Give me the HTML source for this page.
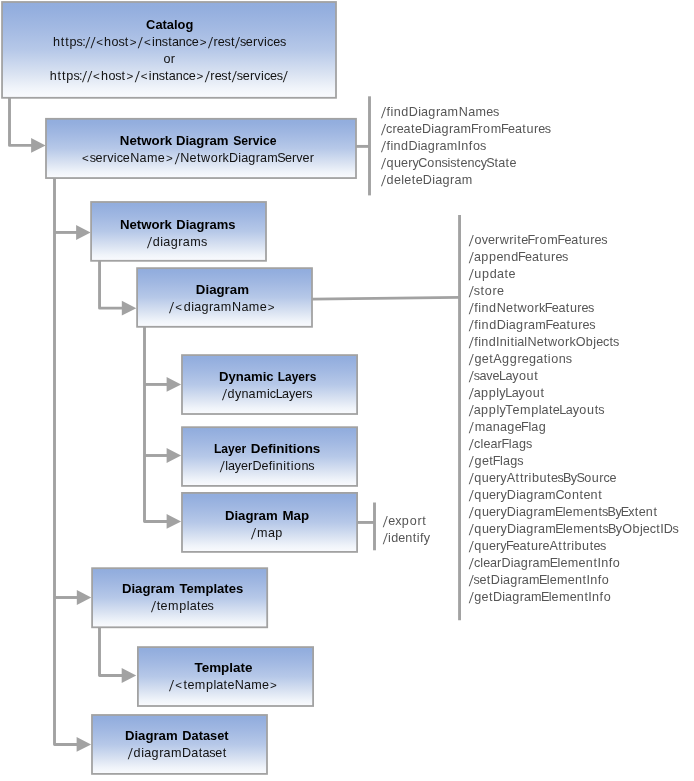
<!DOCTYPE html>
<html><head><meta charset="utf-8"><title>Network Diagram Service</title>
<style>
html,body{margin:0;padding:0;background:#fff;}
svg{display:block;will-change:transform;transform:translateZ(0)}
text{font-family:"Liberation Sans",Arial,sans-serif;font-size:12.6px;}
.b{font-weight:bold;fill:#000}
.t{fill:#111}
.g{fill:#555}
.a{font-size:11.6px}
</style></head><body>
<svg width="694" height="781" viewBox="0 0 694 781">
<defs><linearGradient id="bg" x1="0" y1="0" x2="0" y2="1"><stop offset="0" stop-color="#92addd"/><stop offset="0.06" stop-color="#93aede"/><stop offset="0.25" stop-color="#a1b8e2"/><stop offset="0.5" stop-color="#b6c8e8"/><stop offset="0.75" stop-color="#dae3f2"/><stop offset="0.9" stop-color="#f0f4fa"/><stop offset="1" stop-color="#fafbfe"/></linearGradient></defs>
<rect width="694" height="781" fill="#fff"/>

<polyline points="9.5,98 9.5,145.4 35,145.4" fill="none" stroke="#a2a2a2" stroke-width="2.9" stroke-linejoin="round"/>
<polygon points="45.6,145.45 31.1,138.04999999999998 31.1,152.85" fill="#a2a2a2"/>
<polyline points="54.5,178 54.5,744.45 80,744.45" fill="none" stroke="#a2a2a2" stroke-width="2.9" stroke-linejoin="round"/>
<polygon points="91.1,744.45 76.6,737.0500000000001 76.6,751.85" fill="#a2a2a2"/>
<line x1="54.5" y1="232.45" x2="80" y2="232.45" stroke="#a2a2a2" stroke-width="2.9"/>
<polygon points="90.6,232.5 76.1,225.1 76.1,239.9" fill="#a2a2a2"/>
<line x1="54.5" y1="597.5" x2="80" y2="597.5" stroke="#a2a2a2" stroke-width="2.9"/>
<polygon points="91.3,597.5 76.8,590.1 76.8,604.9" fill="#a2a2a2"/>
<polyline points="99.55,261 99.55,308.15 125,308.15" fill="none" stroke="#a2a2a2" stroke-width="2.9" stroke-linejoin="round"/>
<polygon points="136.3,308.2 121.80000000000001,300.8 121.80000000000001,315.59999999999997" fill="#a2a2a2"/>
<polyline points="144.5,327 144.5,521.45 170,521.45" fill="none" stroke="#a2a2a2" stroke-width="2.9" stroke-linejoin="round"/>
<polygon points="181.1,521.45 166.6,514.0500000000001 166.6,528.85" fill="#a2a2a2"/>
<line x1="144.5" y1="384.45" x2="170" y2="384.45" stroke="#a2a2a2" stroke-width="2.9"/>
<polygon points="181.1,384.45 166.6,377.05 166.6,391.84999999999997" fill="#a2a2a2"/>
<line x1="144.5" y1="455.5" x2="170" y2="455.5" stroke="#a2a2a2" stroke-width="2.9"/>
<polygon points="181.1,455.5 166.6,448.1 166.6,462.9" fill="#a2a2a2"/>
<polyline points="99.5,627 99.5,675.45 125,675.45" fill="none" stroke="#a2a2a2" stroke-width="2.9" stroke-linejoin="round"/>
<polygon points="136.2,675.5 121.69999999999999,668.1 121.69999999999999,682.9" fill="#a2a2a2"/>
<line x1="356" y1="146.4" x2="369.5" y2="146.4" stroke="#a2a2a2" stroke-width="2.9"/>
<line x1="369.5" y1="96.3" x2="369.5" y2="195.4" stroke="#a2a2a2" stroke-width="2.9"/>
<line x1="312" y1="299.1" x2="459.5" y2="297.35" stroke="#a2a2a2" stroke-width="2.9"/>
<line x1="459.55" y1="215" x2="459.55" y2="620.2" stroke="#a2a2a2" stroke-width="2.9"/>
<line x1="357" y1="522.45" x2="374.5" y2="522.45" stroke="#a2a2a2" stroke-width="2.9"/>
<line x1="374.5" y1="502.5" x2="374.5" y2="550.3" stroke="#a2a2a2" stroke-width="2.9"/>
<rect x="2.05" y="2.00" width="333.95" height="95.80" fill="url(#bg)" stroke="#a2a2a2" stroke-width="1.8"/>
<rect x="46.00" y="118.80" width="310.00" height="59.25" fill="url(#bg)" stroke="#a2a2a2" stroke-width="1.8"/>
<rect x="91.10" y="202.00" width="174.90" height="58.80" fill="url(#bg)" stroke="#a2a2a2" stroke-width="1.8"/>
<rect x="137.10" y="268.15" width="174.90" height="58.65" fill="url(#bg)" stroke="#a2a2a2" stroke-width="1.8"/>
<rect x="182.00" y="355.10" width="175.10" height="58.90" fill="url(#bg)" stroke="#a2a2a2" stroke-width="1.8"/>
<rect x="182.00" y="427.20" width="175.10" height="58.70" fill="url(#bg)" stroke="#a2a2a2" stroke-width="1.8"/>
<rect x="182.00" y="492.90" width="175.10" height="59.00" fill="url(#bg)" stroke="#a2a2a2" stroke-width="1.8"/>
<rect x="92.10" y="568.20" width="175.10" height="59.10" fill="url(#bg)" stroke="#a2a2a2" stroke-width="1.8"/>
<rect x="137.90" y="647.10" width="175.20" height="58.90" fill="url(#bg)" stroke="#a2a2a2" stroke-width="1.8"/>
<rect x="92.00" y="715.00" width="175.00" height="58.90" fill="url(#bg)" stroke="#a2a2a2" stroke-width="1.8"/>
<text class="b" y="29"><tspan x="146.12" textLength="47.14" lengthAdjust="spacingAndGlyphs">Catalog</tspan></text>
<text class="b" y="145"><tspan x="119.88" textLength="52.35" lengthAdjust="spacingAndGlyphs">Network</tspan> <tspan x="175.92" textLength="52.63" lengthAdjust="spacingAndGlyphs">Diagram</tspan> <tspan x="233.15" textLength="43.29" lengthAdjust="spacingAndGlyphs">Service</tspan></text>
<text class="b" y="229"><tspan x="119.91" textLength="52.05" lengthAdjust="spacingAndGlyphs">Network</tspan> <tspan x="176.32" textLength="59.14" lengthAdjust="spacingAndGlyphs">Diagrams</tspan></text>
<text class="b" y="294"><tspan x="195.87" textLength="53.13" lengthAdjust="spacingAndGlyphs">Diagram</tspan></text>
<text class="b" y="381"><tspan x="218.91" textLength="54.75" lengthAdjust="spacingAndGlyphs">Dynamic</tspan> <tspan x="277.78" textLength="38.54" lengthAdjust="spacingAndGlyphs">Layers</tspan></text>
<text class="b" y="453"><tspan x="213.98" textLength="32.30" lengthAdjust="spacingAndGlyphs">Layer</tspan> <tspan x="250.86" textLength="69.50" lengthAdjust="spacingAndGlyphs">Definitions</tspan></text>
<text class="b" y="520"><tspan x="224.91" textLength="52.79" lengthAdjust="spacingAndGlyphs">Diagram</tspan> <tspan x="282.44" textLength="26.65" lengthAdjust="spacingAndGlyphs">Map</tspan></text>
<text class="b" y="593"><tspan x="121.91" textLength="52.69" lengthAdjust="spacingAndGlyphs">Diagram</tspan> <tspan x="179.56" textLength="63.69" lengthAdjust="spacingAndGlyphs">Templates</tspan></text>
<text class="b" y="672"><tspan x="194.51" textLength="57.97" lengthAdjust="spacingAndGlyphs">Template</tspan></text>
<text class="b" y="740"><tspan x="124.91" textLength="52.69" lengthAdjust="spacingAndGlyphs">Diagram</tspan> <tspan x="182.37" textLength="46.23" lengthAdjust="spacingAndGlyphs">Dataset</tspan></text>
<text class="t" y="46" x="52.93 60.66 65.13 69.50 76.53 82.17">https:</text>
<text class="t" transform="translate(85.25,48.0) skewX(-7.6) scale(1,1.22)">/</text>
<text class="t" transform="translate(90.40,48.0) skewX(-7.6) scale(1,1.22)">/</text>
<text class="t a" x="96.17" y="45.6">&lt;</text>
<text class="t" y="46" x="104.11 111.53 118.39 124.70">host</text>
<text class="t a" x="129.66" y="45.6">&gt;</text>
<text class="t" transform="translate(137.80,48.0) skewX(-7.6) scale(1,1.22)">/</text>
<text class="t a" x="143.98" y="45.6">&lt;</text>
<text class="t" y="46" x="151.96 155.07 161.82 168.16 171.88 178.82 185.82 191.83">instance</text>
<text class="t a" x="199.74" y="45.6">&gt;</text>
<text class="t" transform="translate(207.90,48.0) skewX(-7.6) scale(1,1.22)">/</text>
<text class="t" y="46" x="213.43 217.83 224.50 230.99">rest</text>
<text class="t" transform="translate(234.90,48.0) skewX(-7.6) scale(1,1.22)">/</text>
<text class="t" y="46" x="239.89 245.85 253.06 257.52 264.09 267.03 273.25 279.92">services</text>
<text class="t" y="80" x="49.78 57.51 61.98 66.35 73.38 79.02">https:</text>
<text class="t" transform="translate(82.10,82.0) skewX(-7.6) scale(1,1.22)">/</text>
<text class="t" transform="translate(87.25,82.0) skewX(-7.6) scale(1,1.22)">/</text>
<text class="t a" x="93.02" y="79.6">&lt;</text>
<text class="t" y="80" x="100.96 108.38 115.24 121.55">host</text>
<text class="t a" x="126.51" y="79.6">&gt;</text>
<text class="t" transform="translate(134.65,82.0) skewX(-7.6) scale(1,1.22)">/</text>
<text class="t a" x="140.83" y="79.6">&lt;</text>
<text class="t" y="80" x="148.81 151.92 158.67 165.01 168.73 175.67 182.67 188.68">instance</text>
<text class="t a" x="196.59" y="79.6">&gt;</text>
<text class="t" transform="translate(204.75,82.0) skewX(-7.6) scale(1,1.22)">/</text>
<text class="t" y="80" x="210.28 214.68 221.35 227.84">rest</text>
<text class="t" transform="translate(231.75,82.0) skewX(-7.6) scale(1,1.22)">/</text>
<text class="t" y="80" x="236.73 242.70 249.91 254.37 260.93 263.88 270.09 276.77">services</text>
<text class="t" transform="translate(282.65,82.0) skewX(-7.6) scale(1,1.22)">/</text>
<text class="t" y="63" x="163.40 170.63">or</text>
<text class="t a" x="82.10" y="161.6">&lt;</text>
<text class="t" y="162" x="89.68 95.60 102.77 107.20 113.73 116.64 122.81 130.19 139.56 146.90 157.82">serviceName</text>
<text class="t a" x="165.93" y="161.6">&gt;</text>
<text class="t" transform="translate(174.70,164.0) skewX(-7.6) scale(1,1.22)">/</text>
<text class="t" y="162" x="180.23 189.57 196.95 201.07 210.65 218.15 222.61 229.03 238.34 241.14 248.30 255.82 260.01 267.21 277.35 284.92 292.01 296.36 302.54 309.63">NetworkDiagramServer</text>
<text class="t" transform="translate(146.90,248.0) skewX(-7.6) scale(1,1.22)">/</text>
<text class="t" y="246" x="152.69 160.37 163.31 170.68 178.37 182.71 190.17 200.90">diagrams</text>
<text class="t" transform="translate(168.90,313.0) skewX(-7.6) scale(1,1.22)">/</text>
<text class="t a" x="175.33" y="310.6">&lt;</text>
<text class="t" y="311" x="183.65 191.27 194.15 201.43 209.04 213.32 220.67 232.04 241.43 248.77 259.70">diagramName</text>
<text class="t a" x="267.83" y="310.6">&gt;</text>
<text class="t" transform="translate(222.00,400.0) skewX(-7.6) scale(1,1.22)">/</text>
<text class="t" y="398" x="227.60 235.00 241.55 248.61 255.88 266.98 269.86 275.63 282.07 288.95 295.21 302.34 306.36">dynamicLayers</text>
<text class="t" transform="translate(219.80,472.0) skewX(-7.6) scale(1,1.22)">/</text>
<text class="t" y="470" x="225.16 227.95 234.76 240.97 248.04 252.42 261.44 268.64 272.60 275.76 283.13 286.56 290.69 293.98 301.48 308.29">layerDefinitions</text>
<text class="t" transform="translate(250.90,539.0) skewX(-7.6) scale(1,1.22)">/</text>
<text class="t" y="537" x="256.89 267.92 275.36">map</text>
<text class="t" transform="translate(150.90,612.0) skewX(-7.6) scale(1,1.22)">/</text>
<text class="t" y="610" x="156.63 160.56 167.95 179.25 186.83 189.68 197.02 200.95 207.55">templates</text>
<text class="t" transform="translate(168.90,691.0) skewX(-7.6) scale(1,1.22)">/</text>
<text class="t a" x="175.20" y="688.6">&lt;</text>
<text class="t" y="689" x="183.53 187.41 194.73 205.96 213.50 216.31 223.61 227.50 234.77 244.04 251.26 262.07">templateName</text>
<text class="t a" x="270.09" y="688.6">&gt;</text>
<text class="t" transform="translate(127.80,759.0) skewX(-7.6) scale(1,1.22)">/</text>
<text class="t" y="757" x="133.56 141.23 144.15 151.49 159.17 163.50 170.92 182.08 191.23 198.65 202.57 209.17 215.16 222.68">diagramDataset</text>
<text class="g" transform="translate(380.90,118.0) skewX(-7.6) scale(1,1.22)">/</text>
<text class="g" y="116" x="386.47 390.49 393.72 401.35 408.82 418.20 421.06 428.31 435.90 440.15 447.46 458.79 468.14 475.45 486.34 492.95">findDiagramNames</text>
<text class="g" transform="translate(380.90,135.0) skewX(-7.6) scale(1,1.22)">/</text>
<text class="g" y="133" x="386.05 392.45 396.80 403.61 410.96 414.90 421.94 431.32 434.18 441.43 449.02 453.27 460.57 470.89 478.16 482.92 490.73 501.05 508.07 514.88 522.23 526.45 533.89 538.24 544.85">createDiagramFromFeatures</text>
<text class="g" transform="translate(380.90,152.0) skewX(-7.6) scale(1,1.22)">/</text>
<text class="g" y="150" x="386.40 390.38 393.56 401.11 408.50 417.81 420.62 427.80 435.32 439.52 446.73 457.61 461.29 468.79 472.92 479.88">findDiagramInfos</text>
<text class="g" transform="translate(380.90,169.0) skewX(-7.6) scale(1,1.22)">/</text>
<text class="g" y="167" x="386.42 393.95 401.05 408.14 412.51 418.30 427.20 434.71 441.52 447.62 450.22 456.59 460.46 467.56 474.61 480.78 486.34 494.47 498.24 505.52 509.39">queryConsistencyState</text>
<text class="g" transform="translate(380.90,186.0) skewX(-7.6) scale(1,1.22)">/</text>
<text class="g" y="184" x="386.62 394.03 401.23 404.23 411.72 415.71 422.82 432.26 435.16 442.47 450.12 454.42 461.81">deleteDiagram</text>
<text class="g" transform="translate(468.80,246.0) skewX(-7.6) scale(1,1.22)">/</text>
<text class="g" y="244" x="474.39 481.75 487.99 495.12 499.70 509.19 513.77 517.24 521.16 527.47 534.71 539.45 547.23 557.51 564.51 571.30 578.63 582.83 590.25 594.57 601.16">overwriteFromFeatures</text>
<text class="g" transform="translate(468.80,263.0) skewX(-7.6) scale(1,1.22)">/</text>
<text class="g" y="261" x="473.94 481.22 489.02 496.38 503.60 511.26 518.06 525.10 531.95 539.32 543.57 551.03 555.40 562.04">appendFeatures</text>
<text class="g" transform="translate(468.80,280.0) skewX(-7.6) scale(1,1.22)">/</text>
<text class="g" y="278" x="474.33 481.99 489.80 497.08 504.46 508.43">update</text>
<text class="g" transform="translate(468.80,297.0) skewX(-7.6) scale(1,1.22)">/</text>
<text class="g" y="295" x="473.85 480.38 484.85 492.53 496.98">store</text>
<text class="g" transform="translate(468.80,314.0) skewX(-7.6) scale(1,1.22)">/</text>
<text class="g" y="312" x="474.29 478.26 481.43 488.97 496.66 506.00 513.38 517.50 527.08 534.58 539.04 544.77 551.72 558.45 565.74 569.89 577.26 581.54 588.08">findNetworkFeatures</text>
<text class="g" transform="translate(468.80,331.0) skewX(-7.6) scale(1,1.22)">/</text>
<text class="g" y="329" x="474.35 478.36 481.58 489.19 496.64 506.00 508.85 516.08 523.65 527.89 535.17 545.46 552.47 559.26 566.60 570.81 578.23 582.56 589.15">findDiagramFeatures</text>
<text class="g" transform="translate(468.80,348.0) skewX(-7.6) scale(1,1.22)">/</text>
<text class="g" y="346" x="474.22 478.16 481.28 488.75 496.03 499.65 506.98 510.39 514.50 517.25 524.21 527.46 536.72 544.05 548.10 557.60 565.04 569.45 575.79 585.86 593.33 596.17 602.89 609.47 613.01">findInitialNetworkObjects</text>
<text class="g" transform="translate(468.80,365.0) skewX(-7.6) scale(1,1.22)">/</text>
<text class="g" y="363" x="474.42 481.75 489.19 493.22 502.05 509.82 517.40 521.73 529.06 536.30 543.64 547.82 551.18 558.77 565.65">getAggregations</text>
<text class="g" transform="translate(468.80,382.0) skewX(-7.6) scale(1,1.22)">/</text>
<text class="g" y="380" x="473.65 479.41 486.24 492.45 498.96 505.38 512.24 518.89 526.44 534.13">saveLayout</text>
<text class="g" transform="translate(468.80,399.0) skewX(-7.6) scale(1,1.22)">/</text>
<text class="g" y="397" x="473.85 481.05 488.76 496.31 499.32 505.23 511.65 518.52 525.18 532.74 540.43">applyLayout</text>
<text class="g" transform="translate(468.80,416.0) skewX(-7.6) scale(1,1.22)">/</text>
<text class="g" y="414" x="473.87 481.08 488.82 496.38 499.40 505.33 512.56 519.92 531.20 538.76 541.59 548.92 552.83 559.36 565.80 572.68 579.36 586.94 594.64 598.26">applyTemplateLayouts</text>
<text class="g" transform="translate(468.80,433.0) skewX(-7.6) scale(1,1.22)">/</text>
<text class="g" y="431" x="474.63 485.53 492.72 499.90 507.24 514.67 521.08 528.41 531.32 538.66">manageFlag</text>
<text class="g" transform="translate(468.80,450.0) skewX(-7.6) scale(1,1.22)">/</text>
<text class="g" y="448" x="474.06 480.52 483.53 490.43 497.56 501.40 508.73 511.64 518.98 526.11">clearFlags</text>
<text class="g" transform="translate(468.80,467.0) skewX(-7.6) scale(1,1.22)">/</text>
<text class="g" y="465" x="474.50 481.88 489.37 492.76 500.06 502.95 510.24 517.33">getFlags</text>
<text class="g" transform="translate(468.80,484.0) skewX(-7.6) scale(1,1.22)">/</text>
<text class="g" y="482" x="474.31 481.83 488.92 496.00 500.36 506.66 515.52 519.94 524.06 528.60 531.90 539.42 547.06 550.92 557.44 562.89 570.83 576.38 584.35 591.85 599.21 603.43 609.49">queryAttributesBySource</text>
<text class="g" transform="translate(468.80,501.0) skewX(-7.6) scale(1,1.22)">/</text>
<text class="g" y="499" x="474.35 481.89 489.01 496.11 500.49 506.84 516.16 518.96 526.14 533.66 537.86 545.07 555.45 564.37 571.90 579.57 583.45 590.57 598.23">queryDiagramContent</text>
<text class="g" transform="translate(468.80,518.0) skewX(-7.6) scale(1,1.22)">/</text>
<text class="g" y="516" x="474.34 481.88 488.99 496.08 500.46 506.80 516.11 518.91 526.08 533.60 537.79 544.99 554.97 562.66 565.55 572.85 583.64 590.75 598.41 602.00 607.46 615.41 620.83 628.18 634.79 638.66 645.77 653.44">queryDiagramElementsByExtent</text>
<text class="g" transform="translate(468.80,535.0) skewX(-7.6) scale(1,1.22)">/</text>
<text class="g" y="533" x="474.36 481.93 489.06 496.17 500.56 506.93 516.25 519.07 526.26 533.80 538.00 545.24 555.24 562.94 565.85 573.18 583.99 591.12 598.80 602.40 607.88 615.86 622.22 632.40 639.94 642.85 649.66 656.30 660.26 663.80 672.57">queryDiagramElementsByObjectIDs</text>
<text class="g" transform="translate(468.80,552.0) skewX(-7.6) scale(1,1.22)">/</text>
<text class="g" y="550" x="474.30 481.80 488.88 495.94 500.29 505.91 512.83 519.53 526.79 530.92 538.27 542.52 549.41 558.26 562.66 566.78 571.31 574.60 582.10 589.73 593.58 600.09">queryFeatureAttributes</text>
<text class="g" transform="translate(468.80,569.0) skewX(-7.6) scale(1,1.22)">/</text>
<text class="g" y="567" x="473.90 480.27 483.19 489.96 496.99 501.42 510.76 513.58 520.78 528.34 532.55 539.80 549.82 557.53 560.45 567.79 578.62 585.77 593.46 597.43 601.13 608.66 612.80">clearDiagramElementInfo</text>
<text class="g" transform="translate(468.80,586.0) skewX(-7.6) scale(1,1.22)">/</text>
<text class="g" y="584" x="473.62 479.46 486.85 490.85 500.17 502.97 510.15 517.68 521.87 529.08 539.07 546.76 549.66 556.97 567.77 574.88 582.55 586.51 590.19 597.69 601.82">setDiagramElementInfo</text>
<text class="g" transform="translate(468.80,603.0) skewX(-7.6) scale(1,1.22)">/</text>
<text class="g" y="601" x="474.32 481.57 488.95 492.93 502.23 505.03 512.18 519.70 523.88 531.07 541.03 548.71 551.60 558.89 569.66 576.76 584.41 588.36 592.03 599.52 603.63">getDiagramElementInfo</text>
<text class="g" transform="translate(382.80,527.0) skewX(-7.6) scale(1,1.22)">/</text>
<text class="g" y="525" x="388.17 395.13 401.82 409.71 417.40 422.37">export</text>
<text class="g" transform="translate(382.80,544.0) skewX(-7.6) scale(1,1.22)">/</text>
<text class="g" y="542" x="388.02 391.21 398.29 405.23 412.75 416.80 419.99 423.67">identify</text>
</svg></body></html>
